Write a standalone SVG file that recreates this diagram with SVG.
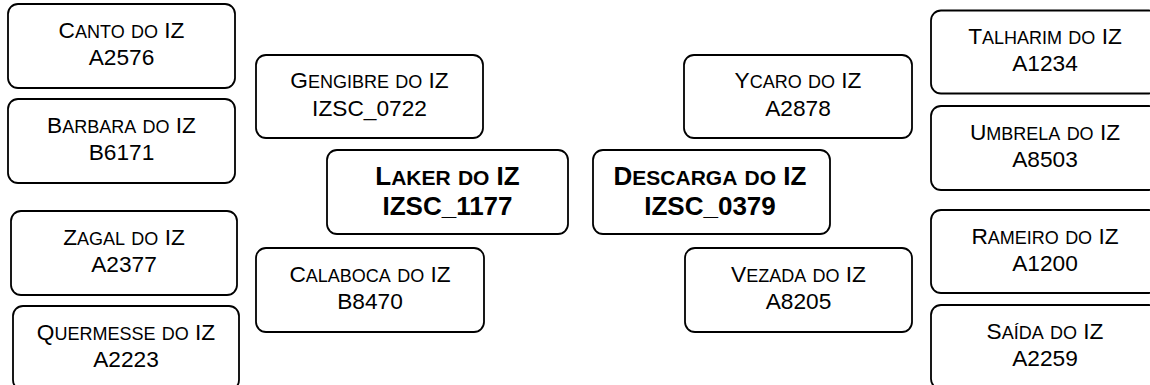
<svg xmlns="http://www.w3.org/2000/svg" width="1150" height="385" viewBox="0 0 1150 385">
<style>
.box{fill:#fff;stroke:#000;stroke-width:1.8}
.t{font-family:"Liberation Sans",Arial,sans-serif;font-size:22.7px;fill:#000;text-anchor:middle}
.sc{font-variant:small-caps;font-size:25.9px}
.b{font-weight:bold;font-size:26px}
.b .sc{font-size:29.7px}
</style>
<rect width="1150" height="385" fill="#fff"/>
<g id="connectors"/>
<g id="canto"><rect class="box" x="8" y="4" width="227" height="84" rx="10"/>
<text class="t" x="121.5" y="37.7">C<tspan class="sc">anto</tspan> <tspan class="sc">do</tspan> IZ</text>
<text class="t" x="121.5" y="65">A2576</text></g>
<g id="barbara"><rect class="box" x="8" y="99" width="227" height="84" rx="10"/>
<text class="t" x="121.5" y="132.7">B<tspan class="sc">arbara</tspan> <tspan class="sc">do</tspan> IZ</text>
<text class="t" x="121.5" y="160">B6171</text></g>
<g id="zagal"><rect class="box" x="11" y="211" width="226" height="84" rx="10"/>
<text class="t" x="124" y="244.7">Z<tspan class="sc">agal</tspan> <tspan class="sc">do</tspan> IZ</text>
<text class="t" x="124" y="272">A2377</text></g>
<g id="quermesse"><rect class="box" x="13" y="306" width="226" height="84" rx="10"/>
<text class="t" x="126" y="339.7">Q<tspan class="sc">uermesse</tspan> <tspan class="sc">do</tspan> IZ</text>
<text class="t" x="126" y="367">A2223</text></g>
<g id="gengibre"><rect class="box" x="256" y="55" width="227" height="83" rx="10"/>
<text class="t" x="369.5" y="88">G<tspan class="sc">engibre</tspan> <tspan class="sc">do</tspan> IZ</text>
<text class="t" x="369.5" y="115.5">IZSC_0722</text></g>
<g id="calaboca"><rect class="box" x="256" y="248" width="228" height="84" rx="10"/>
<text class="t" x="370" y="281.5">C<tspan class="sc">alaboca</tspan> <tspan class="sc">do</tspan> IZ</text>
<text class="t" x="370" y="308.8">B8470</text></g>
<g id="laker"><rect class="box" x="327" y="150" width="241" height="84" rx="10"/>
<text class="t b" x="447.5" y="185">L<tspan class="sc">aker</tspan> <tspan class="sc">do</tspan> IZ</text>
<text class="t b" x="447.5" y="215">IZSC_1177</text></g>
<g id="descarga"><rect class="box" x="593" y="150" width="237" height="84" rx="10"/>
<text class="t b" x="710" y="185">D<tspan class="sc">escarga</tspan> <tspan class="sc">do</tspan> IZ</text>
<text class="t b" x="710" y="215">IZSC_0379</text></g>
<g id="ycaro"><rect class="box" x="684" y="55" width="228" height="83" rx="10"/>
<text class="t" x="798" y="88">Y<tspan class="sc">caro</tspan> <tspan class="sc">do</tspan> IZ</text>
<text class="t" x="798" y="115.5">A2878</text></g>
<g id="vezada"><rect class="box" x="685" y="248" width="227" height="84" rx="10"/>
<text class="t" x="798.5" y="281.5">V<tspan class="sc">ezada</tspan> <tspan class="sc">do</tspan> IZ</text>
<text class="t" x="798.5" y="308.8">A8205</text></g>
<g id="talharim"><rect class="box" x="931" y="10.5" width="228" height="83" rx="10"/>
<text class="t" x="1045" y="44">T<tspan class="sc">alharim</tspan> <tspan class="sc">do</tspan> IZ</text>
<text class="t" x="1045" y="71.3">A1234</text></g>
<g id="umbrela"><rect class="box" x="931" y="106" width="228" height="84" rx="10"/>
<text class="t" x="1045" y="139.7">U<tspan class="sc">mbrela</tspan> <tspan class="sc">do</tspan> IZ</text>
<text class="t" x="1045" y="167">A8503</text></g>
<g id="rameiro"><rect class="box" x="931" y="210" width="228" height="83" rx="10"/>
<text class="t" x="1045" y="243.7">R<tspan class="sc">ameiro</tspan> <tspan class="sc">do</tspan> IZ</text>
<text class="t" x="1045" y="271">A1200</text></g>
<g id="saida"><rect class="box" x="931" y="305" width="228" height="84" rx="10"/>
<text class="t" x="1045" y="338.7">S<tspan class="sc">aída</tspan> <tspan class="sc">do</tspan> IZ</text>
<text class="t" x="1045" y="366">A2259</text></g>
</svg>
